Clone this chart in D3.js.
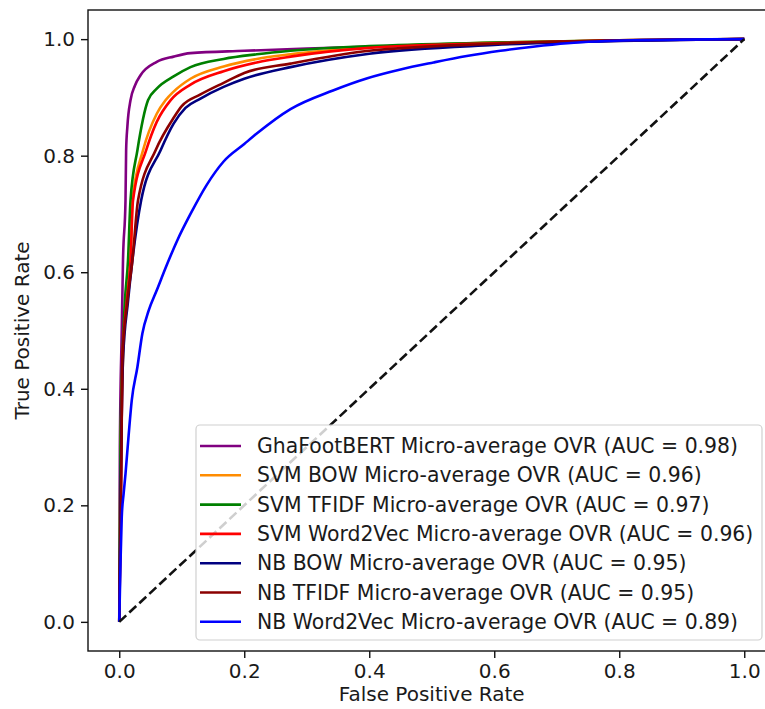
<!DOCTYPE html>
<html>
<head>
<meta charset="utf-8">
<script src="https://cdn.jsdelivr.net/npm/d3@7"></script>
<style>
  body { margin: 0; background: #fff; }
  text { font-family: "DejaVu Sans", sans-serif; fill: #1a1a1a; }
</style>
</head>
<body>
<script>
var width = 765;
var height = 709;

// series names / colours, in plot order
var names = [
  "GhaFootBERT Micro-average OVR (AUC = 0.98)",
  "SVM BOW Micro-average OVR (AUC = 0.96)",
  "SVM TFIDF Micro-average OVR (AUC = 0.97)",
  "SVM Word2Vec Micro-average OVR (AUC = 0.96)",
  "NB BOW Micro-average OVR (AUC = 0.95)",
  "NB TFIDF Micro-average OVR (AUC = 0.95)",
  "NB Word2Vec Micro-average OVR (AUC = 0.89)"
];
var colors = ["purple", "darkorange", "green", "red", "navy", "darkred", "blue"];

// ROC points: [fpr, tpr]
var bert = [[0,0],[0.001,0.3],[0.004,0.5],[0.006,0.62],[0.01,0.723],[0.011,0.809],[0.013,0.85],[0.018,0.895],[0.025,0.92],[0.034,0.938],[0.06,0.961],[0.087,0.97],[0.114,0.976],[0.2,0.98],[0.3,0.984],[0.5,0.99],[0.7,0.995],[0.85,0.998],[1,1]];
var svmBow = [[0,0],[0.002,0.28],[0.006,0.45],[0.011,0.55],[0.018,0.62],[0.021,0.723],[0.038,0.809],[0.06,0.872],[0.074,0.895],[0.087,0.91],[0.114,0.932],[0.167,0.953],[0.22,0.966],[0.274,0.974],[0.4,0.986],[0.6,0.994],[0.8,0.998],[1,1]];
var svmTfidf = [[0,0],[0.002,0.3],[0.005,0.45],[0.009,0.55],[0.014,0.62],[0.018,0.723],[0.029,0.809],[0.046,0.895],[0.06,0.915],[0.087,0.936],[0.114,0.952],[0.167,0.966],[0.22,0.974],[0.274,0.98],[0.4,0.988],[0.6,0.994],[0.8,0.998],[1,1]];
var svmW2v = [[0,0],[0.003,0.25],[0.005,0.45],[0.012,0.55],[0.018,0.62],[0.022,0.723],[0.043,0.809],[0.06,0.858],[0.082,0.895],[0.114,0.922],[0.167,0.945],[0.22,0.96],[0.274,0.97],[0.4,0.985],[0.6,0.993],[0.8,0.998],[1,1]];
var nbBow = [[0,0],[0.002,0.2],[0.006,0.45],[0.014,0.55],[0.021,0.62],[0.035,0.723],[0.066,0.809],[0.087,0.855],[0.106,0.882],[0.13,0.898],[0.167,0.918],[0.2,0.932],[0.274,0.952],[0.4,0.975],[0.6,0.99],[0.8,0.997],[1,1]];
var nbTfidf = [[0,0],[0.003,0.23],[0.005,0.45],[0.013,0.55],[0.021,0.62],[0.03,0.723],[0.058,0.809],[0.087,0.865],[0.1,0.885],[0.13,0.905],[0.167,0.925],[0.2,0.942],[0.274,0.958],[0.4,0.98],[0.6,0.992],[0.8,0.998],[1,1]];
var nbW2v = [[0,0],[0.002,0.1],[0.004,0.18],[0.007,0.22],[0.01,0.254],[0.015,0.32],[0.02,0.38],[0.029,0.437],[0.037,0.495],[0.047,0.534],[0.06,0.569],[0.077,0.615],[0.093,0.655],[0.114,0.7],[0.14,0.75],[0.167,0.79],[0.2,0.82],[0.22,0.838],[0.274,0.88],[0.342,0.912],[0.397,0.933],[0.45,0.948],[0.503,0.96],[0.556,0.971],[0.61,0.98],[0.662,0.987],[0.717,0.993],[0.822,0.998],[1,1]];
var series = [bert, svmBow, svmTfidf, svmW2v, nbBow, nbTfidf, nbW2v];
var chance = [[0,0],[1,1]];
var ticks = [0, 0.2, 0.4, 0.6, 0.8, 1.0];

// plot box (right edge runs past the window, as in the picture)
var pLeft = 88, pRight = 775.5, pTop = 10, pBottom = 651;

var x = d3.scaleLinear().domain([-0.05, 1.05]).range([pLeft, pRight]);
var y = d3.scaleLinear().domain([-0.05, 1.05]).range([pBottom, pTop]);

var svg = d3.select("body").append("svg")
  .attr("width", width).attr("height", height);

svg.append("clipPath").attr("id", "clip")
  .append("rect").attr("x", pLeft).attr("y", pTop)
  .attr("width", pRight - pLeft).attr("height", pBottom - pTop);

var line = d3.line()
  .x(function (d) { return x(d[0]); })
  .y(function (d) { return y(d[1]); });
var rocLine = d3.line()
  .curve(d3.curveMonotoneX)
  .x(function (d) { return x(d[0]); })
  .y(function (d) { return y(d[1]); });

var plot = svg.append("g").attr("clip-path", "url(#clip)");

plot.selectAll("path.roc").data(series).enter().append("path")
  .attr("class", "roc")
  .attr("d", rocLine)
  .style("fill", "none")
  .style("stroke", function (d, i) { return colors[i]; })
  .style("stroke-width", 2.6)
  .style("stroke-linejoin", "round");

plot.append("path").datum(chance)
  .attr("d", line)
  .style("fill", "none")
  .style("stroke", "#111")
  .style("stroke-width", 2.6)
  .style("stroke-dasharray", "9.5,4.2");

// axes
var xAxis = svg.append("g").attr("transform", "translate(0," + pBottom + ")")
  .call(d3.axisBottom(x).tickValues(ticks).tickFormat(d3.format(".1f")).tickSize(7).tickPadding(6).tickSizeOuter(0));
var yAxis = svg.append("g").attr("transform", "translate(" + pLeft + ",0)")
  .call(d3.axisLeft(y).tickValues(ticks).tickFormat(d3.format(".1f")).tickSize(7).tickPadding(6).tickSizeOuter(0));

[xAxis, yAxis].forEach(function (g) {
  g.select(".domain").remove();
  g.selectAll("line").style("stroke", "#111").style("stroke-width", 1.4);
  g.selectAll("text").style("font-size", "20px").style("fill", "#1a1a1a")
    .style("font-family", "DejaVu Sans, sans-serif");
});

// frame
svg.append("rect")
  .attr("x", pLeft).attr("y", pTop)
  .attr("width", pRight - pLeft).attr("height", pBottom - pTop)
  .style("fill", "none").style("stroke", "#111").style("stroke-width", 1.4);

svg.append("text")
  .attr("x", (pLeft + pRight) / 2).attr("y", 701)
  .attr("text-anchor", "middle")
  .style("font-size", "20px")
  .text("False Positive Rate");

svg.append("text")
  .attr("transform", "translate(29," + (pTop + pBottom) / 2 + ") rotate(-90)")
  .attr("text-anchor", "middle")
  .style("font-size", "20px")
  .text("True Positive Rate");

// legend
var lg = svg.append("g");
lg.append("rect")
  .attr("x", 196).attr("y", 425).attr("width", 566).attr("height", 215)
  .attr("rx", 4)
  .style("fill", "#fff").style("fill-opacity", 0.8)
  .style("stroke", "#d0d0d0").style("stroke-width", 1.2);

var rows = lg.selectAll("g.item").data(names).enter().append("g")
  .attr("class", "item")
  .attr("transform", function (d, i) { return "translate(0," + (446 + i * 29.3) + ")"; });

rows.append("line")
  .attr("x1", 200).attr("x2", 241)
  .style("stroke", function (d, i) { return colors[i]; })
  .style("stroke-width", 2.6);

rows.append("text")
  .attr("x", 257).attr("dy", "0.35em")
  .style("font-size", "20.4px")
  .text(function (d) { return d; });
</script>
</body>
</html>
